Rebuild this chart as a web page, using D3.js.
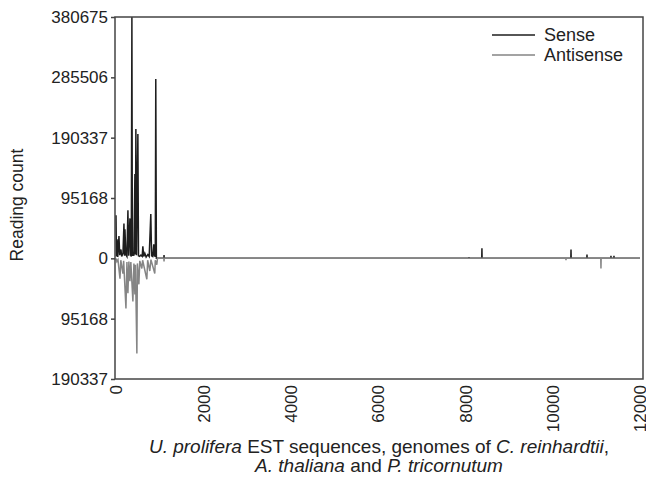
<!DOCTYPE html>
<html>
<head>
<meta charset="utf-8">
<script src="https://cdn.jsdelivr.net/npm/d3@7"></script>
<style>
  body { margin: 0; background: #fff; }
  text { font-family: "Liberation Sans", Arial, sans-serif; fill: #222; }
</style>
</head>
<body>
<svg class="chart" width="646" height="480"></svg>
<script>
// positions along the concatenated sequences, with read counts
const sensePos = [0, 10, 25, 40, 68, 85, 114, 130, 160, 182, 195, 205, 225, 250, 273, 290, 319, 335, 350, 364, 375, 395, 410, 433, 445, 455, 470, 501, 515, 540, 570, 600, 615, 635, 660, 690, 729, 760, 797, 815, 840, 865, 880, 888, 900, 911, 925, 1000, 1096, 1100, 1104, 8080, 8084, 8088, 8376, 8380, 8384, 10416, 10420, 10424, 10782, 10786, 10790, 11331, 11335, 11339, 11400, 11404, 11408, 12000];
const senseVal = [68000, 3000, 30000, 2000, 35000, 5000, 14000, 3000, 8000, 55000, 4000, 46000, 6000, 3000, 76000, 4000, 63000, 5000, 3000, 380675, 4000, 10000, 4000, 133000, 6000, 204000, 5000, 196000, 4000, 3000, 5000, 3000, 19000, 3000, 8000, 2000, 6000, 3000, 70000, 4000, 3000, 22000, 3000, 14000, 2000, 283000, 0, 0, 0, 5000, 0, 0, 2000, 0, 0, 16000, 0, 0, 14000, 0, 0, 6000, 0, 0, 4000, 0, 0, 4000, 0, 0];

const antiPos = [0, 20, 45, 91, 110, 159, 175, 228, 250, 273, 295, 319, 340, 387, 410, 433, 445, 478, 490, 524, 545, 592, 610, 706, 725, 774, 800, 888, 900, 934, 950, 1096, 1100, 1104, 10301, 10305, 10309, 11102, 11106, 11110, 12000];
const antiVal = [0, -5000, -2000, -32000, -3000, -24000, -4000, -79000, -6000, -55000, -5000, -36000, -6000, -68000, -8000, -57000, -10000, -150000, -8000, -41000, -4000, -16000, -3000, -33000, -3000, -20000, -2000, -24000, -3000, -10000, 0, 0, -5000, 0, 0, -3000, 0, 0, -16000, 0, 0];

const yTicks = [-190337, -95168, 0, 95168, 190337, 285506, 380675];
const xTicks = [0, 2000, 4000, 6000, 8000, 10000, 12000];

const svg = d3.select(".chart");
const m = { left: 115, right: 643, top: 17, bottom: 379 };

const xScale = d3.scaleLinear().domain([0, 12000]).range([116, 640]);
const yScale = d3.scaleLinear().domain([-190337, 380675]).range([m.bottom, m.top]);

svg.append("clipPath").attr("id", "clip")
    .append("rect").attr("x", m.left).attr("y", m.top)
    .attr("width", m.right - m.left).attr("height", m.bottom - m.top);

const plot = svg.append("g").attr("clip-path", "url(#clip)");

const line = d3.line()
    .x(d => xScale(d[0]))
    .y(d => yScale(d[1]));

plot.append("path")
    .datum(d3.zip(sensePos, senseVal))
    .attr("fill", "none")
    .attr("stroke", "#1e1e1e")
    .attr("stroke-width", 1.5)
    .attr("d", line);

plot.append("path")
    .datum(d3.zip(antiPos, antiVal))
    .attr("fill", "none")
    .attr("stroke", "#858585")
    .attr("stroke-width", 1.5)
    .attr("d", line);

// frame
svg.append("rect")
    .attr("x", m.left).attr("y", m.top)
    .attr("width", m.right - m.left).attr("height", m.bottom - m.top)
    .attr("fill", "none")
    .attr("stroke", "#444")
    .attr("stroke-width", 1.5);

// y axis
const yAxis = svg.append("g")
    .attr("transform", `translate(${m.left},0)`)
    .call(d3.axisLeft(yScale).tickValues(yTicks).tickSize(4).tickPadding(3)
        .tickFormat(d => d3.format("d")(Math.abs(d))));
yAxis.select(".domain").remove();
yAxis.selectAll("line").attr("stroke", "#444").attr("stroke-width", 1.5);
yAxis.selectAll("text").attr("font-size", 17).attr("fill", "#222");

// x axis with rotated labels
const xAxis = svg.append("g")
    .attr("transform", `translate(0,${m.bottom})`)
    .call(d3.axisBottom(xScale).tickValues(xTicks).tickSize(0).tickFormat(d3.format("d")));
xAxis.select(".domain").remove();
xAxis.selectAll("text")
    .attr("font-size", 17)
    .attr("fill", "#222")
    .attr("transform", "rotate(-90)")
    .attr("text-anchor", "end")
    .attr("x", -6)
    .attr("y", 0)
    .attr("dy", "0.35em");

// axis titles
svg.append("text")
    .attr("transform", "translate(23,205) rotate(-90)")
    .attr("text-anchor", "middle")
    .attr("font-size", 17.5)
    .text("Reading count");

const t1 = svg.append("text").attr("x", 379).attr("y", 453).attr("text-anchor", "middle").attr("font-size", 19);
t1.append("tspan").attr("font-style", "italic").text("U. prolifera");
t1.append("tspan").text(" EST sequences, genomes of ");
t1.append("tspan").attr("font-style", "italic").text("C. reinhardtii");
t1.append("tspan").text(",");

const t2 = svg.append("text").attr("x", 379).attr("y", 472).attr("text-anchor", "middle").attr("font-size", 19);
t2.append("tspan").attr("font-style", "italic").text("A. thaliana");
t2.append("tspan").text(" and ");
t2.append("tspan").attr("font-style", "italic").text("P. tricornutum");

// legend
const legend = svg.append("g");
[["Sense", "#1e1e1e", 35], ["Antisense", "#858585", 55]].forEach(([name, color, y]) => {
    legend.append("line")
        .attr("x1", 492).attr("x2", 535).attr("y1", y).attr("y2", y)
        .attr("stroke", color).attr("stroke-width", 1.5);
    legend.append("text")
        .attr("x", 544).attr("y", y).attr("dy", "0.35em")
        .attr("font-size", 18)
        .text(name);
});
</script>
</body>
</html>
